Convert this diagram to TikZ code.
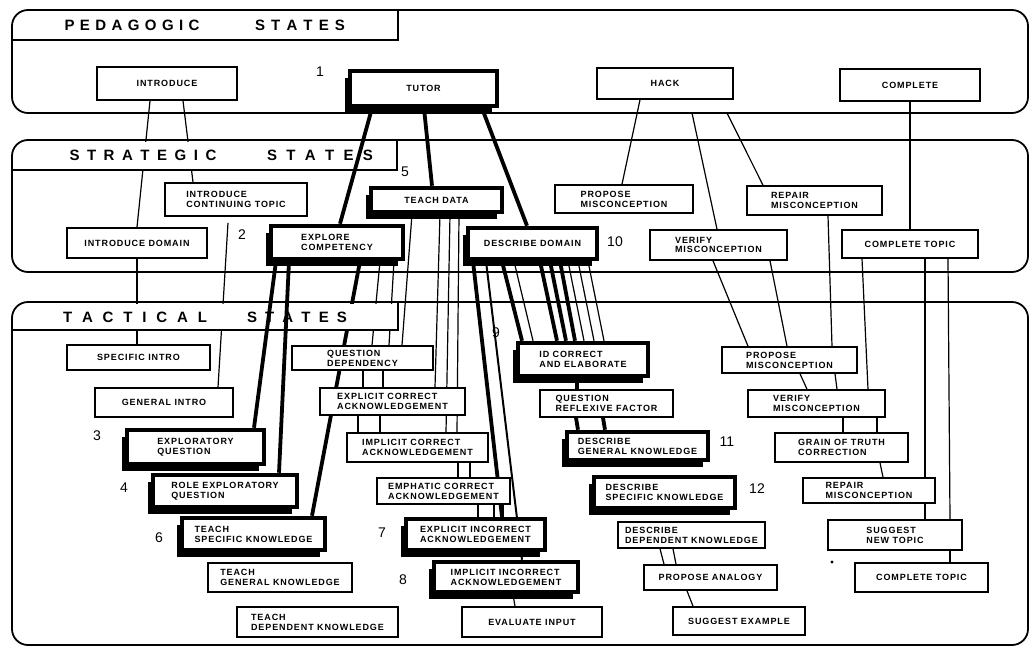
\documentclass[tikz,border=0pt]{standalone}
\usepackage{fontspec}
\setmainfont{Liberation Sans}
\newfontfamily\hand[LetterSpace=10]{Liberation Sans}
\usetikzlibrary{shadows}
\pgfdeclarelayer{lzero}
\pgfdeclarelayer{tabs}
\pgfdeclarelayer{lone}
\pgfsetlayers{lzero,tabs,lone,main}
\tikzset{
 box/.style={draw, line width=1.6pt, fill=white, inner sep=1pt, align=left,
   font=\hand\bfseries\fontsize{9}{9.8}\selectfont},
 heavy/.style={line width=4.5pt, drop shadow={shadow xshift=-5pt, shadow yshift=-7pt, fill=black, opacity=1}},
 thinline/.style={line width=1.2pt},
 thickline/.style={line width=3.8pt},
 panel/.style={line width=1.8pt, rounded corners=16pt},
 tabline/.style={line width=1.8pt},
 num/.style={font=\fontsize{14}{14}\selectfont, inner sep=0},
 hdr/.style={font=\bfseries\fontsize{15}{15}\selectfont, inner sep=0},
}
\newcommand\bx[7][]{\node[box,#1,minimum width={#4-#2},minimum height={#5-#3}] (#6) at ({(#2+#4)/2},{(#3+#5)/2}) {#7};}
\begin{document}
\begin{tikzpicture}[x=1pt,y=-1pt]
\useasboundingbox (0,0) rectangle (1033,648);
% ---------- boxes ----------
% Pedagogic
\bx{97}{67}{237}{100}{intro}{INTRODUCE}
\bx[heavy]{350}{71}{497}{106}{tutor}{TUTOR}
\bx{597}{68}{733}{99}{hack}{HACK}
\bx{840}{69}{980}{101}{complete}{COMPLETE}
% Strategic
\bx{165}{183}{307}{216}{ict}{INTRODUCE\\CONTINUING TOPIC}
\bx{67}{228}{207}{258}{idom}{INTRODUCE DOMAIN}
\bx[heavy]{271}{226}{403}{259}{ec}{EXPLORE\\COMPETENCY}
\bx[heavy]{371}{188}{502}{212}{td}{TEACH DATA}
\bx[heavy]{468}{228}{597}{259}{dd}{DESCRIBE DOMAIN}
\bx{555}{185}{693}{213}{pmA}{PROPOSE\\MISCONCEPTION}
\bx{747}{186}{882}{215}{rmA}{REPAIR\\MISCONCEPTION}
\bx{650}{230}{787}{260}{vmA}{VERIFY\\MISCONCEPTION}
\bx{842}{230}{978}{258}{ctA}{COMPLETE TOPIC}
% Tactical
\bx{67}{345}{210}{370}{si}{SPECIFIC INTRO}
\bx{95}{388}{233}{417}{gi}{GENERAL INTRO}
\bx{292}{346}{433}{370}{qd}{QUESTION\\DEPENDENCY}
\bx{320}{388}{465}{415}{eca}{EXPLICIT CORRECT\\ACKNOWLEDGEMENT}
\bx{347}{433}{488}{462}{ica}{IMPLICIT CORRECT\\ACKNOWLEDGEMENT}
\bx[heavy]{127}{430}{264}{464}{eq}{EXPLORATORY\\QUESTION}
\bx[heavy]{153}{475}{297}{507}{req}{ROLE EXPLORATORY\\QUESTION}
\bx[heavy]{182}{518}{325}{550}{tsk}{TEACH\\SPECIFIC KNOWLEDGE}
\bx{208}{563}{352}{592}{tgk}{TEACH\\GENERAL KNOWLEDGE}
\bx{237}{607}{398}{637}{tdk}{TEACH\\DEPENDENT KNOWLEDGE}
\bx{377}{478}{510}{504}{emp}{EMPHATIC CORRECT\\ACKNOWLEDGEMENT}
\bx[heavy]{406}{519}{545}{550}{eia}{EXPLICIT INCORRECT\\ACKNOWLEDGEMENT}
\bx[heavy]{434}{562}{578}{592}{iia}{IMPLICIT INCORRECT\\ACKNOWLEDGEMENT}
\bx{462}{607}{602}{637}{ev}{EVALUATE INPUT}
\bx[heavy]{518}{343}{648}{376}{idc}{ID CORRECT\\AND ELABORATE}
\bx{540}{390}{673}{417}{qrf}{QUESTION\\REFLEXIVE FACTOR}
\bx[heavy]{567}{432}{708}{460}{dgk}{DESCRIBE\\GENERAL KNOWLEDGE}
\bx[heavy]{594}{477}{735}{508}{dsk}{DESCRIBE\\SPECIFIC KNOWLEDGE}
\bx{618}{522}{765}{548}{ddk}{DESCRIBE\\DEPENDENT KNOWLEDGE}
\bx{644}{565}{777}{590}{pa}{PROPOSE ANALOGY}
\bx{673}{607}{805}{635}{se}{SUGGEST EXAMPLE}
\bx{722}{347}{857}{373}{pmB}{PROPOSE\\MISCONCEPTION}
\bx{748}{390}{885}{417}{vmB}{VERIFY\\MISCONCEPTION}
\bx{775}{433}{908}{462}{gtc}{GRAIN OF TRUTH\\CORRECTION}
\bx{803}{478}{935}{503}{rmB}{REPAIR\\MISCONCEPTION}
\bx{828}{520}{962}{550}{snt}{SUGGEST\\NEW TOPIC}
\bx{855}{563}{988}{592}{ctB}{COMPLETE TOPIC}
\node[circle, fill, inner sep=1.2pt] (mark) at (832,562) {};
% ---------- number labels ----------
\node[num] (n1) at (320,72) {1};
\node[num] (n2) at (242,235) {2};
\node[num] (n5) at (405,172) {5};
\node[num] (n10) at (615,242) {10};
\node[num] (n3) at (97,436) {3};
\node[num] (n4) at (124,488) {4};
\node[num] (n6) at (159,538) {6};
\node[num] (n7) at (382,533) {7};
\node[num] (n8) at (403,580) {8};
\node[num] (n9) at (496,333) {9};
\node[num] (n11) at (727,442) {11};
\node[num] (n12) at (757,489) {12};
% ---------- lines behind header tabs ----------
\begin{pgfonlayer}{lzero}
\fill[white] (0,0) rectangle (1033,648);
\draw[thinline] (intro.south -| 150,0) -- (idom.north -| 137,0);
\draw[thinline] (intro.south -| 183,0) -- (ict.north -| 193,0);
\draw[thinline] (idom.south -| 137,0) -- (si.north -| 137,0);
\draw[thinline] (ict.south -| 228,0) ++(0,6) -- (gi.north -| 218,0);
\draw[thinline] (ec.south -| 380,0) -- (qd.north -| 372,0);
\draw[thinline] (ec.south -| 394,0) -- (qd.north -| 389,0);
\draw[thinline] (td.south -| 412,0) -- (qd.north -| 402,0);
\draw[thickline] (ec.south -| 360,0) -- (tsk.north -| 312,0);
\end{pgfonlayer}
% ---------- panels and tabs ----------
\begin{pgfonlayer}{tabs}
\fill[white] (14,12) rectangle (397,39);
\fill[white] (14,142) rectangle (396,169);
\fill[white] (14,304) rectangle (397,329);
\draw[panel] (12,10) rectangle (1028,113);
\draw[panel] (12,140) rectangle (1028,272);
\draw[panel] (12,302) rectangle (1028,645);
\draw[tabline] (12,40) -- (398,40) -- (398,10);
\draw[tabline] (12,170) -- (397,170) -- (397,140);
\draw[tabline] (12,330) -- (398,330) -- (398,302);
\node[hdr] (h1a) at (132,25) {\makebox[135pt][s]{P\hfil E\hfil D\hfil A\hfil G\hfil O\hfil G\hfil I\hfil C}};
\node[hdr] (h1b) at (300,25) {\makebox[90pt][s]{S\hfil T\hfil A\hfil T\hfil E\hfil S}};
\node[hdr] (h2a) at (143,155) {\makebox[147pt][s]{S\hfil T\hfil R\hfil A\hfil T\hfil E\hfil G\hfil I\hfil C}};
\node[hdr] (h2b) at (320,155) {\makebox[106pt][s]{S\hfil T\hfil A\hfil T\hfil E\hfil S}};
\node[hdr] (h3a) at (135,317) {\makebox[144pt][s]{T\hfil A\hfil C\hfil T\hfil I\hfil C\hfil A\hfil L}};
\node[hdr] (h3b) at (297,317) {\makebox[100pt][s]{S\hfil T\hfil A\hfil T\hfil E\hfil S}};
\end{pgfonlayer}
% ---------- other connectors ----------
\begin{pgfonlayer}{lone}
\coordinate (e1) at (692,113);
\coordinate (e2) at (727,113);
\draw[thickline] (tutor.south -| 372,0) -- (ec.north -| 340,0);
\draw[thickline] (tutor.south -| 424,0) -- (td.north -| 432,0);
\draw[thickline] (tutor.south -| 482,0) -- (dd.north -| 527,0);
\draw[thinline] (hack.south -| 640,0) -- (pmA.north -| 622,0);
\draw[thinline] (e1) -- (vmA.north -| 717,0);
\draw[thinline] (e2) -- (rmA.north -| 763,0);
\draw[thinline] (complete.south -| 910,0) -- (ctA.north -| 910,0);
\draw[thickline] (ec.south -| 276,0) -- (eq.north -| 254,0);
\draw[thickline] (ec.south -| 289,0) -- (req.north -| 279,0);
\draw[thinline] (td.south -| 440,0) -- (eca.north -| 435,0);
\draw[thinline] (td.south -| 450,0) -- (ica.north -| 446,0);
\draw[thinline] (td.south -| 459,0) -- (ica.north -| 457,0);
\draw[thinline] (qd.south -| 363,0) -- (eca.north -| 363,0);
\draw[thinline] (qd.south -| 383,0) -- (eca.north -| 383,0);
\draw[thinline] (eca.south -| 358,0) -- (ica.north -| 358,0);
\draw[thinline] (eca.south -| 380,0) -- (ica.north -| 380,0);
\draw[thinline] (ica.south -| 458,0) -- (emp.north -| 458,0);
\draw[thinline] (ica.south -| 470,0) -- (emp.north -| 470,0);
\draw[thinline] (emp.south -| 478,0) -- (eia.north -| 478,0);
\draw[thinline] (emp.south -| 494,0) -- (eia.north -| 494,0);
\draw[thinline] (emp.south -| 503,0) -- (eia.north -| 503,0);
\draw[thinline] (iia.south -| 513,0) -- (ev.north -| 515,0);
\draw[thickline] (dd.south -| 473,0) -- (eia.north -| 502,0);
\draw[line width=2pt] (dd.south -| 486,0) -- (iia.north -| 522,0);
\draw[thickline] (dd.south -| 502,0) -- (idc.north -| 522,0);
\draw[thickline] (dd.south -| 540,0) -- (idc.north -| 557,0);
\draw[thickline] (dd.south -| 550,0) -- (idc.north -| 566,0);
\draw[thickline] (dd.south -| 560,0) -- (idc.north -| 575,0);
\draw[thinline] (dd.south -| 514,0) -- (idc.north -| 533,0);
\draw[thinline] (dd.south -| 568,0) -- (idc.north -| 584,0);
\draw[thinline] (dd.south -| 578,0) -- (idc.north -| 594,0);
\draw[thinline] (dd.south -| 588,0) -- (idc.north -| 604,0);
\draw[thickline] (idc.south -| 577,0) -- (qrf.north -| 577,0);
\draw[thickline] (qrf.south -| 576,0) -- (dgk.north -| 578,0);
\draw[thickline] (qrf.south -| 603,0) -- (dgk.north -| 605,0);
\draw[thinline] (ddk.south -| 660,0) -- (pa.north -| 664,0);
\draw[thinline] (ddk.south -| 673,0) -- (pa.north -| 676,0);
\draw[thinline] (pa.south -| 687,0) -- (se.north -| 693,0);
\draw[thinline] (vmA.south -| 713,0) -- (pmB.north -| 748,0);
\draw[thinline] (vmA.south -| 770,0) -- (pmB.north -| 787,0);
\draw[thinline] (rmA.south -| 828,0) -- (pmB.north -| 832,0);
\draw[thinline] (ctA.south -| 862,0) -- (vmB.north -| 868,0);
\draw[thinline] (ctA.south -| 925,0) -- (rmB.north -| 925,0);
\draw[thinline] (ctA.south -| 948,0) -- (snt.north -| 950,0);
\draw[thinline] (pmB.south -| 800,0) -- (vmB.north -| 807,0);
\draw[thinline] (pmB.south -| 835,0) -- (vmB.north -| 837,0);
\draw[thinline] (vmB.south -| 843,0) -- (gtc.north -| 843,0);
\draw[thinline] (vmB.south -| 877,0) -- (gtc.north -| 877,0);
\draw[thinline] (gtc.south -| 880,0) -- (rmB.north -| 883,0);
\draw[thinline] (rmB.south -| 925,0) -- (snt.north -| 925,0);
\draw[thinline] (snt.south -| 950,0) -- (ctB.north -| 950,0);
\end{pgfonlayer}
\end{tikzpicture}
\end{document}
